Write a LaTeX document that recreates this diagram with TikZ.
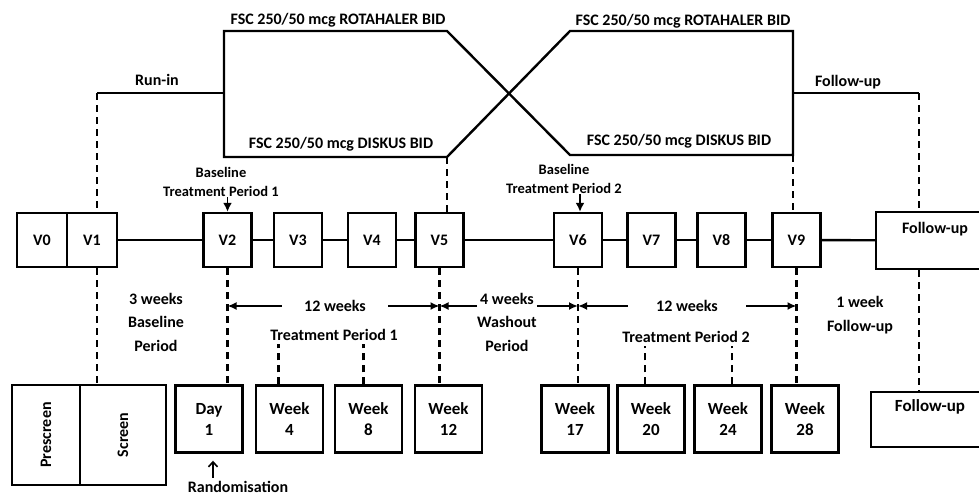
\documentclass[tikz,border=0pt]{standalone}
\usepackage{fontspec}
\setmainfont{Carlito}
\usetikzlibrary{arrows.meta,positioning}

\tikzset{
  armline/.style={line width=2.4pt},
  visit/.style={draw, line width=2.4pt, minimum width=48pt, minimum height=54pt, inner sep=0pt},
  wkbox/.style={draw, line width=2.4pt, minimum width=67pt, minimum height=67pt, inner sep=0pt, align=center,
    font=\bfseries\fontsize{17}{21}\selectfont},
  dashline/.style={line width=2.4pt, dash pattern=on 7pt off 5pt},
  span/.style={line width=2pt, -{Latex[length=9pt,width=8pt]}},
  tip/.style={line width=1.8pt, -{Latex[length=9pt,width=9pt]}},
  randarrow/.style={line width=1.6pt, -{Straight Barb[length=5pt,width=9pt]}},
  stack/.style={align=center, inner sep=0pt, font=\bfseries\fontsize{16}{23.5}\selectfont},
  small/.style={align=center, inner sep=0pt, font=\bfseries\fontsize{14.5}{19.5}\selectfont},
}

\begin{document}
\begin{tikzpicture}[x=1pt, y=-1pt, font=\bfseries\fontsize{16}{19}\selectfont]
\clip (0,0) rectangle (979,498);
\fill[white] (0,0) rectangle (979,498);

% crossover arms
\coordinate (runL) at (97,93);
\coordinate (armL) at (224,93);
\coordinate (topL) at (224,31);
\coordinate (botL) at (224,157);
\coordinate (topX1) at (447,31);
\coordinate (botX1) at (447,157);
\coordinate (topX2) at (570,31);
\coordinate (botX2) at (570,155);
\coordinate (topR) at (793,31);
\coordinate (botR) at (793,155);
\coordinate (armR) at (793,93);
\coordinate (fuR) at (919,93);

\draw[armline] (runL) -- (armL);
\draw[armline] (topL) -- (botL) -- (botX1) -- (topX2) -- (topR) -- (botR) -- (botX2) -- (topX1) -- cycle;
\draw[armline] (armR) -- (fuR);

\node (rotL) at (338,20) {FSC 250/50 mcg ROTAHALER BID};
\node (rotR) at (683,21) {FSC 250/50 mcg ROTAHALER BID};
\node (disL) at (341,144) {FSC 250/50 mcg DISKUS BID};
\node (disR) at (679,141) {FSC 250/50 mcg DISKUS BID};
\node (runin) at (157,80) {Run-in};
\node (fuin) at (848,82) {Follow-up};

% visits
\node[visit, minimum width=50pt] (V0) at (42,240) {V0};
\node[visit, minimum width=50pt] (V1) at (92,240) {V1};
\foreach \v/\xx in {V2/227.5, V3/298, V4/372, V5/439.5, V6/578, V7/651.5, V8/721.5, V9/796.5}
  \node[visit] (\v) at (\xx,240) {\v};
\node[visit, minimum width=118pt, minimum height=57pt, align=center] (fumid) at (935,240.5) {Follow-up\\\strut};

\foreach \a/\b in {V1/V2, V2/V3, V3/V4, V4/V5, V5/V6, V6/V7, V7/V8, V8/V9, V9/fumid}
  \draw[armline] (\a) -- (\b);

% baseline markers
\node[small] (bl1) at (221,182) {Baseline\\Treatment Period 1};
\node[small] (bl2) at (564,179) {Baseline\\Treatment Period 2};
\draw[tip] (V2.north |- bl1.south) -- (V2.north);
\draw[tip] ([xshift=2pt]V6.north |- bl2.south) -- ([xshift=2pt]V6.north);

% study weeks
\node[wkbox, minimum width=68pt, minimum height=100pt] (pre) at (46,435) {};
\node[wkbox, minimum width=86pt, minimum height=100pt] (scr) at (123,435) {};
\node[rotate=90] (preT) at (pre) {Prescreen};
\node[rotate=90] (scrT) at (scr) {Screen};
\node[wkbox] (day1) at (209,419) {Day\\1};
\foreach \nm/\wk/\xx in {wk4/4/289.5, wk8/8/368.5, wk12/12/448.5, wk17/17/575, wk20/20/651, wk24/24/728, wk28/28/805}
  \node[wkbox] (\nm) at (\xx,419) {Week\\\wk};
\node[wkbox, minimum width=118pt, minimum height=55pt] (fubot) at (930,419.5) {Follow-up\\\strut};

% dashed links
\draw[dashline] (runL) -- (runL |- V1.north);
\draw[dashline] (botX1) -- (botX1 |- V5.north);
\draw[dashline] (botR) -- (botR |- V9.north);
\draw[dashline] (fuR) -- (fuR |- fumid.north);
\draw[dashline] (runL |- V1.south) -- (runL |- scr.north);
\draw[dashline] (V2.south) -- (V2.south |- day1.north);
\draw[dashline] (V5.south) -- (V5.south |- wk12.north);
\draw[dashline] (V6.south) -- (V6.south |- wk17.north);
\draw[dashline] (V9.south) -- (V9.south |- wk28.north);
\draw[dashline] (fuR |- fumid.south) -- (fuR |- fubot.north);

% periods
\node (tp1) at (334,335) {Treatment Period 1};
\node (tp2) at (686,337) {Treatment Period 2};
\foreach \b/\dx/\t in {wk4/-11/tp1, wk8/-5/tp1, wk20/-6/tp2, wk24/4/tp2}
  \draw[dashline] ([xshift=\dx pt]\b.north) -- ([xshift=\dx pt]\b.north |- \t.south);

\coordinate (s1) at (V2.south |- 0,306);
\coordinate (s2) at (V5.south |- 0,306);
\coordinate (s3) at (V6.south |- 0,306);
\coordinate (s4) at (V9.south |- 0,306);

\node[inner xsep=22pt] (span1) at (335,306) {12 weeks};
\draw[span] (span1.west) -- (s1);
\draw[span] (span1.east) -- (s2);
\node[stack] (wash) at (507,322) {4 weeks\\Washout\\Period};
\draw[span] (wash.west |- s2) -- (s2);
\draw[span] (wash.east |- s3) -- (s3);
\node[inner xsep=28pt] (span2) at (687,306) {12 weeks};
\draw[span] (span2.west) -- (s3);
\draw[span] (span2.east) -- (s4);

\node[stack] (runper) at (156,322) {3 weeks\\Baseline\\Period};
\node[stack] (fuper) at (860,315) {1 week\\Follow-up};

% randomisation
\node (rnd) at (238,487) {Randomisation};
\draw[randarrow] ([xshift=4pt,yshift=-24pt]day1.south) -- ([xshift=4pt,yshift=-7pt]day1.south);
\end{tikzpicture}
\end{document}
